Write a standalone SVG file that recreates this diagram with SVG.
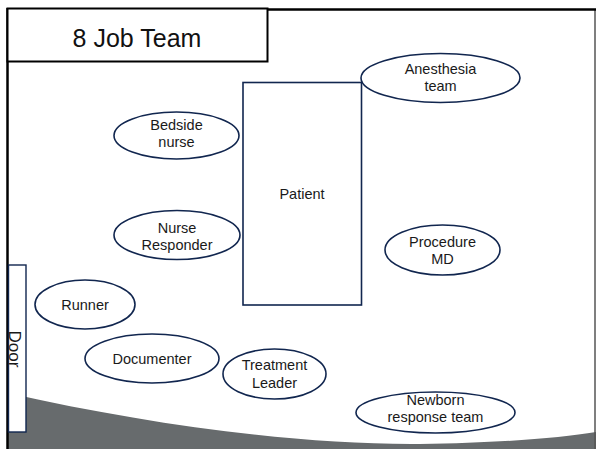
<svg xmlns="http://www.w3.org/2000/svg" width="596" height="449" viewBox="0 0 596 449">
<style>
.node{fill:#fff;stroke:#11264f;stroke-width:1.6}
.lbl{font-family:"Liberation Sans",Arial,sans-serif;font-size:14.5px;fill:#1a1a1a;text-anchor:middle}
.title{font-family:"Liberation Sans",Arial,sans-serif;font-size:25px;fill:#111;text-anchor:middle}
</style>
<rect x="0" y="0" width="596" height="449" fill="#fff"/>
<g id="floor">
<path d="M8,393 C150,425 300,445 420,444 C500,443 560,438 596,432 L596,449 L8,449 Z" fill="#676b6d"/>
</g>
<g id="frame">
<line x1="595" y1="9" x2="595" y2="449" stroke="#555" stroke-width="1.5"/>
<line x1="7" y1="9.5" x2="596" y2="9.5" stroke="#000" stroke-width="2.5"/>
<line x1="7.5" y1="8" x2="7.5" y2="449" stroke="#000" stroke-width="2.5"/>
</g>
<g id="title">
<rect x="7.5" y="8.5" width="260" height="53" fill="#fff" stroke="#000" stroke-width="2"/>
<text class="title" x="137" y="47">8 Job Team</text>
</g>
<g id="door">
<rect x="8.5" y="265" width="17.5" height="167" fill="#fff" stroke="#11264f" stroke-width="1.4"/>
<text class="lbl" style="font-size:17px" transform="translate(9,349) rotate(90)" x="0" y="0">Door</text>
</g>
<g id="patient">
<rect class="node" x="243" y="82.5" width="118.5" height="222.5"/>
<text class="lbl" x="302" y="199">Patient</text>
</g>
<g id="anesthesia">
<ellipse class="node" cx="440.5" cy="78" rx="79.5" ry="24.5"/>
<text class="lbl" x="440.5" y="74">Anesthesia</text>
<text class="lbl" x="440.5" y="91">team</text>
</g>
<g id="bedside">
<ellipse class="node" cx="176.5" cy="135.5" rx="62.5" ry="23.5"/>
<text class="lbl" x="176.5" y="130">Bedside</text>
<text class="lbl" x="176.5" y="147">nurse</text>
</g>
<g id="nurse-responder">
<ellipse class="node" cx="177" cy="235" rx="63" ry="24.5"/>
<text class="lbl" x="177" y="233">Nurse</text>
<text class="lbl" x="177" y="250">Responder</text>
</g>
<g id="procedure">
<ellipse class="node" cx="442.5" cy="250" rx="57.5" ry="25"/>
<text class="lbl" x="442.5" y="247">Procedure</text>
<text class="lbl" x="442.5" y="264">MD</text>
</g>
<g id="runner">
<ellipse class="node" cx="85" cy="304.5" rx="50" ry="24.5"/>
<text class="lbl" x="85" y="310">Runner</text>
</g>
<g id="documenter">
<ellipse class="node" cx="152" cy="358.5" rx="67" ry="24.5"/>
<text class="lbl" x="152" y="364">Documenter</text>
</g>
<g id="treatment">
<ellipse class="node" cx="274.5" cy="374" rx="51.5" ry="25"/>
<text class="lbl" x="274.5" y="370">Treatment</text>
<text class="lbl" x="274.5" y="388">Leader</text>
</g>
<g id="newborn">
<ellipse class="node" cx="435.5" cy="412.5" rx="79.5" ry="20.5"/>
<text class="lbl" x="435.5" y="405">Newborn</text>
<text class="lbl" x="435.5" y="422">response team</text>
</g>
<g id="connectors"></g>
</svg>
